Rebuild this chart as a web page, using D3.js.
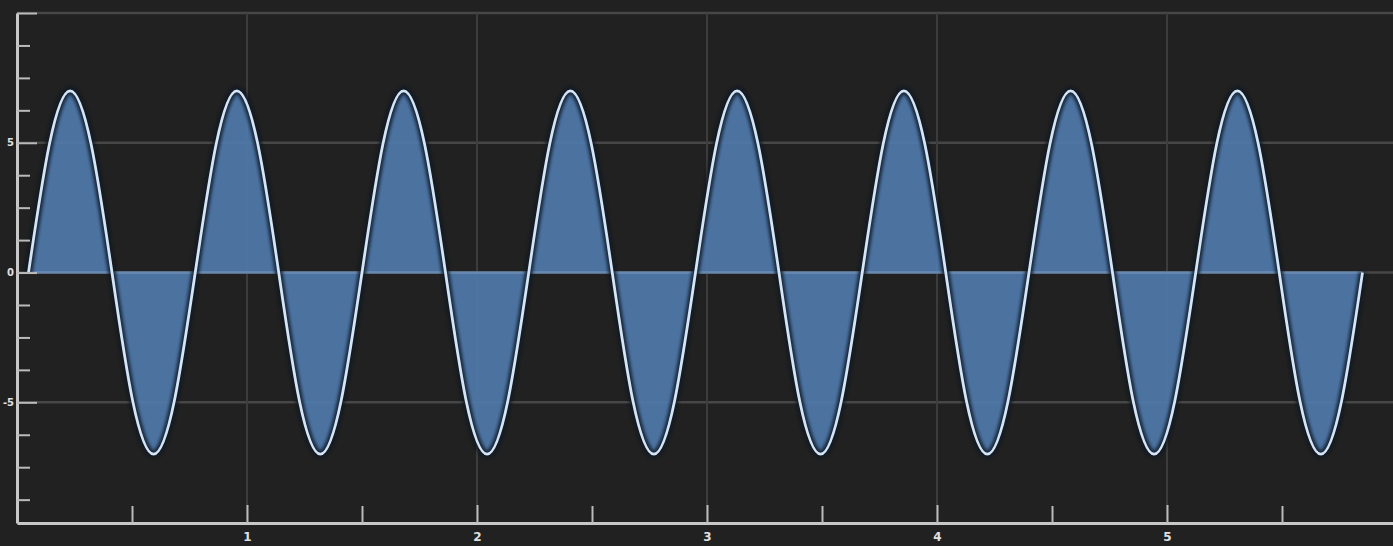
<!DOCTYPE html>
<html>
<head>
<meta charset="utf-8">
<script src="https://cdn.jsdelivr.net/npm/d3@7"></script>
<style>
  html, body { margin: 0; padding: 0; background: #212121; overflow: hidden; }
  svg { display: block; }
</style>
</head>
<body>
<svg id="chart" width="1393" height="546"></svg>
<script>
// ---- data ----
const waveX = [
  0.050, 0.141, 0.231, 0.322, 0.413, 0.503, 0.594, 0.684,
  0.775, 0.866, 0.956, 1.047, 1.138, 1.228, 1.319, 1.409,
  1.500, 1.591, 1.681, 1.772, 1.863, 1.953, 2.044, 2.134,
  2.225, 2.316, 2.406, 2.497, 2.588, 2.678, 2.769, 2.859,
  2.950, 3.041, 3.131, 3.222, 3.313, 3.403, 3.494, 3.584,
  3.675, 3.766, 3.856, 3.947, 4.038, 4.128, 4.219, 4.309,
  4.400, 4.491, 4.581, 4.672, 4.763, 4.853, 4.944, 5.034,
  5.125, 5.216, 5.306, 5.397, 5.488, 5.578, 5.669, 5.759,
  5.850
];
const waveY = [
  0, 4.95, 7, 4.95, 0, -4.95, -7, -4.95,
  0, 4.95, 7, 4.95, 0, -4.95, -7, -4.95,
  0, 4.95, 7, 4.95, 0, -4.95, -7, -4.95,
  0, 4.95, 7, 4.95, 0, -4.95, -7, -4.95,
  0, 4.95, 7, 4.95, 0, -4.95, -7, -4.95,
  0, 4.95, 7, 4.95, 0, -4.95, -7, -4.95,
  0, 4.95, 7, 4.95, 0, -4.95, -7, -4.95,
  0, 4.95, 7, 4.95, 0, -4.95, -7, -4.95,
  0
];
const xMajorTicks = [1, 2, 3, 4, 5];
const xMinorTicks = [0.5, 1.5, 2.5, 3.5, 4.5, 5.5];
const xTickLabels = ["1", "2", "3", "4", "5"];
const yMajorTicks = [-5, 0, 5, 10];
const yTickLabels = ["-5", "0", "5", ""];
const yMinorTicks = [-8.75, -7.5, -6.25, -3.75, -2.5, -1.25, 1.25, 2.5, 3.75, 6.25, 7.5, 8.75];

// ---- layout ----
const svg = d3.select("#chart");
const W = 1393, H = 546;
const x = d3.scaleLinear().domain([0, 6]).range([17, 1397]);
const y = d3.scaleLinear().domain([-9.65, 10]).range([523, 13]);

const data = waveX.map((v, i) => ({ x: v, y: waveY[i] }));

svg.append("rect").attr("width", W).attr("height", H).attr("fill", "#212121");

const defs = svg.append("defs");
defs.append("filter").attr("id", "blur").append("feGaussianBlur").attr("stdDeviation", 1.6);

// grid lines
const grid = svg.append("g");
grid.selectAll("line.gy").data(yMajorTicks).join("line")
  .attr("x1", 17).attr("x2", W)
  .attr("y1", d => y(d)).attr("y2", d => y(d))
  .attr("stroke", "#474747").attr("stroke-width", 2.5);
grid.selectAll("line.gx").data(xMajorTicks).join("line")
  .attr("x1", d => x(d)).attr("x2", d => x(d))
  .attr("y1", y(10)).attr("y2", y(-9.65))
  .attr("stroke", "#3c3c3c").attr("stroke-width", 2);

// area between curve and zero
const area = d3.area()
  .x(d => x(d.x)).y0(y(0)).y1(d => y(d.y))
  .curve(d3.curveNatural);
const line = d3.line()
  .x(d => x(d.x)).y(d => y(d.y))
  .curve(d3.curveNatural);

svg.append("path").datum(data)
  .attr("d", area)
  .attr("fill", "#5079ab").attr("fill-opacity", 0.92);

// zero highlight inside fill
svg.append("line")
  .attr("x1", x(waveX[0])).attr("x2", x(waveX[waveX.length - 1]))
  .attr("y1", y(0)).attr("y2", y(0))
  .attr("stroke", "#7093bc").attr("stroke-width", 2.5).attr("opacity", 0.8);

// dark halo + light line
svg.append("path").datum(data)
  .attr("d", line).attr("fill", "none")
  .attr("stroke", "#0c1624").attr("stroke-width", 8).attr("opacity", 0.8)
  .attr("filter", "url(#blur)");
svg.append("path").datum(data)
  .attr("d", line).attr("fill", "none")
  .attr("stroke", "#d3e5f6").attr("stroke-width", 2.8);

// axes
const axisColor = "#c8c8c8";
const xAxis = d3.axisBottom(x).tickValues(xMajorTicks)
  .tickFormat((d, i) => xTickLabels[i]).tickSizeInner(-18).tickSizeOuter(0).tickPadding(9);
const gx = svg.append("g").attr("transform", `translate(0,${y(-9.65)})`).call(xAxis);
gx.select(".domain").attr("stroke", axisColor).attr("stroke-width", 3);
gx.selectAll(".tick line").attr("stroke", "#bbbbbb").attr("stroke-width", 2);
gx.selectAll(".tick text").attr("fill", "#e0e0e0").attr("font-size", 12)
  .attr("font-family", "DejaVu Sans, sans-serif").attr("font-weight", "bold");

const xMinor = d3.axisBottom(x).tickValues(xMinorTicks).tickFormat("").tickSizeInner(-17).tickSizeOuter(0);
const gxm = svg.append("g").attr("transform", `translate(0,${y(-9.65)})`).call(xMinor);
gxm.select(".domain").remove();
gxm.selectAll(".tick line").attr("stroke", "#bbbbbb").attr("stroke-width", 2);

const yAxis = d3.axisLeft(y).tickValues(yMajorTicks)
  .tickFormat((d, i) => yTickLabels[i]).tickSizeInner(-20).tickSizeOuter(0).tickPadding(3);
const gy = svg.append("g").attr("transform", `translate(${x(0)},0)`).call(yAxis);
gy.select(".domain").attr("stroke", axisColor).attr("stroke-width", 3);
gy.selectAll(".tick line").attr("stroke", "#bbbbbb").attr("stroke-width", 2);
gy.selectAll(".tick text").attr("fill", "#e0e0e0").attr("font-size", 10)
  .attr("font-family", "DejaVu Sans, sans-serif").attr("font-weight", "bold");

const yMinor = d3.axisLeft(y).tickValues(yMinorTicks).tickFormat("").tickSizeInner(-13).tickSizeOuter(0);
const gym = svg.append("g").attr("transform", `translate(${x(0)},0)`).call(yMinor);
gym.select(".domain").remove();
gym.selectAll(".tick line").attr("stroke", "#bbbbbb").attr("stroke-width", 2);
</script>
</body>
</html>
